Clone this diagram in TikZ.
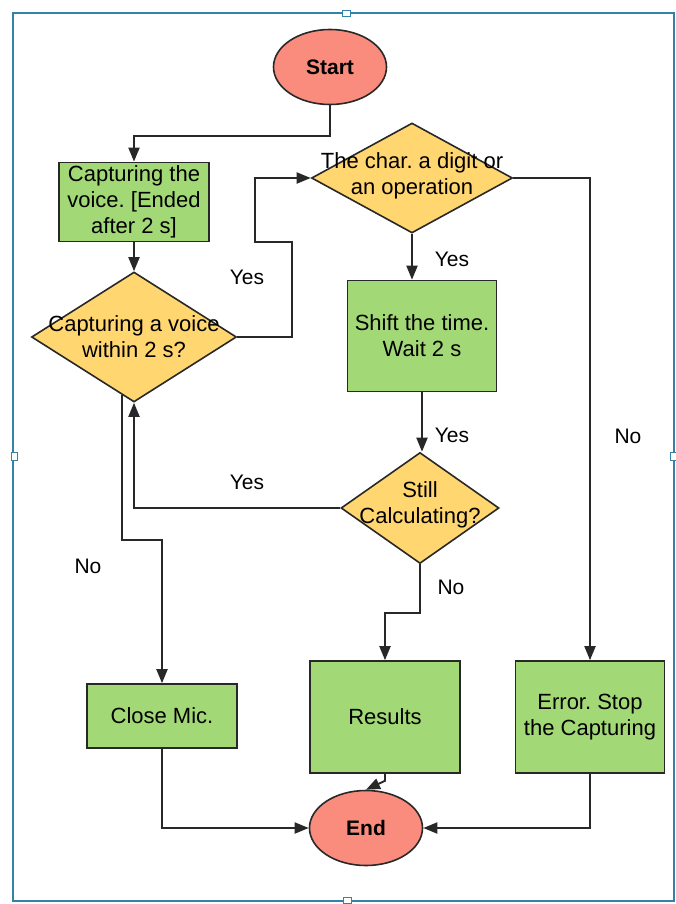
\documentclass[tikz,border=0pt]{standalone}
\usepackage{fontspec}
\setmainfont{Liberation Sans}
\usetikzlibrary{shapes.geometric,arrows.meta,calc}

\definecolor{boxgreen}{RGB}{162,217,118}
\definecolor{diamyellow}{RGB}{255,214,112}
\definecolor{termred}{RGB}{250,140,126}
\definecolor{edgegray}{RGB}{40,40,40}
\definecolor{frameblue}{RGB}{50,130,170}

\begin{document}
\frenchspacing
\begin{tikzpicture}[
    x=1pt,
    y=-1pt,
    font=\fontsize{22}{26}\selectfont,
    process/.style={
        rectangle,
        draw=edgegray,
        fill=boxgreen,
        line width=1.6pt,
        minimum width=150pt,
        align=center
    },
    decision/.style={
        diamond,
        draw=edgegray,
        fill=diamyellow,
        line width=1.6pt,
        inner sep=0pt
    },
    terminal/.style={
        ellipse,
        draw=edgegray,
        fill=termred,
        line width=1.6pt,
        minimum width=113pt,
        minimum height=75pt,
        font=\fontsize{21}{25}\selectfont\bfseries
    },
    arrow/.style={
        -{Triangle[length=14pt,width=11pt]},
        draw=edgegray,
        line width=1.9pt
    },
    note/.style={
        font=\fontsize{21}{25}\selectfont
    },
    handle/.style={
        draw=frameblue,
        fill=white,
        line width=1pt,
        minimum width=8pt,
        minimum height=6pt,
        inner sep=0pt
    }
]
\useasboundingbox (0,0) rectangle (676,904);

% Frame
\draw [frameblue, line width=1.5pt] (13,13) rectangle (674,901);
\node [handle] (htop) at (346,14) {};
\node [handle] (hbot) at (347,900) {};
\node [handle, minimum width=6pt, minimum height=8pt] (hleft) at (14,456) {};
\node [handle, minimum width=6pt, minimum height=8pt] (hright) at (673,456) {};

% Terminals
\node [terminal] (start) at (330,67) {Start};
\node [terminal] (end) at (366,828) {End};

% Process boxes
\node [process, minimum height=75pt] (capt) at (134,202) {Capturing the\\voice. [Ended\\after 2 s]};
\node [process, minimum width=149pt, minimum height=111pt] (shift) at (422,336) {Shift the time.\\Wait 2 s};
\node [process, minimum height=64pt] (close) at (162,716) {Close Mic.};
\node [process, minimum height=112pt] (results) at (385,717) {Results};
\node [process, minimum width=149pt, minimum height=112pt] (error) at (590,717) {Error. Stop\\the Capturing};

% Decisions
\node [decision, minimum width=205pt, minimum height=130pt] (voice) at (134,337) {};
\node [align=center] (voicetxt) at (voice) {Capturing a voice\\within 2 s?};
\node [decision, minimum width=201pt, minimum height=110pt] (char) at (412,178) {};
\node [align=center] (chartxt) at (412,176) {The char. a digit or\\an operation};
\node [decision, minimum width=158pt, minimum height=111pt] (still) at (420,508) {};
\node [align=center] (stilltxt) at (420,505) {Still\\Calculating?};

% Connectors
\draw [arrow] (start.south) -- ++(0,31) -| (capt.north);
\draw [arrow] (capt) -- (voice);
\draw [arrow] (voice.east) -| (292,242) -- (255,242) |- (char.west);
\draw [arrow] (char.south) -- (char.south |- shift.north);
\draw [arrow] (shift.south) -- (shift.south |- still.north);
\draw [arrow] (still.west) -| (voice.south);
\draw [arrow] ($(voice.south)!0.12!(voice.west)$) -- ++(0,145) -| (close.north);
\draw [arrow] (still.south) -- ++(0,49) -| (results.north);
\draw [arrow] (char.east) -| (error.north);
\draw [arrow] (close.south) |- (end.west);
\draw [arrow] (error.south) |- (end.east);
\draw [arrow] (results.south) -- ++(0,7) -- (end.north);

% Branch labels
\node [note] (yes1) at (247,277) {Yes};
\node [note] (yes2) at (452,259) {Yes};
\node [note] (yes3) at (452,435) {Yes};
\node [note] (yes4) at (247,482) {Yes};
\node [note] (no1) at (88,566) {No};
\node [note] (no2) at (451,587) {No};
\node [note] (no3) at (628,436) {No};

\end{tikzpicture}
\end{document}
